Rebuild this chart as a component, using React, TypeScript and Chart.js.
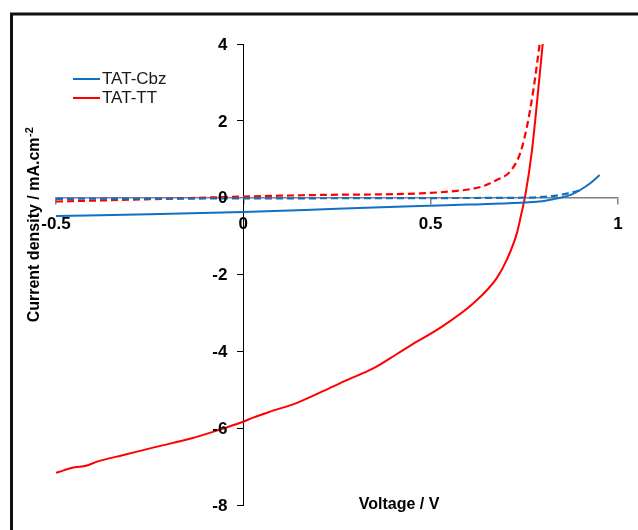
import { useEffect, useRef } from 'react';
import { Chart, registerables } from 'chart.js';

Chart.register(...registerables);

// Voltage (V) / current density (mA.cm-2)
const cbzLightV = [-0.5, -0.25, 0, 0.25, 0.47, 0.6, 0.74, 0.79, 0.827, 0.863, 0.88, 0.899, 0.925, 0.951];
const cbzLightJ = [-0.48, -0.43, -0.37, -0.29, -0.22, -0.18, -0.13, -0.1, -0.04, 0.04, 0.1, 0.2, 0.37, 0.59];

const cbzDarkV = [-0.5, 0, 0.5, 0.75, 0.8, 0.845, 0.87, 0.9];
const cbzDarkJ = [-0.03, -0.02, -0.01, 0.0, 0.02, 0.07, 0.12, 0.19];

const ttDarkV = [-0.5, -0.25, 0, 0.2, 0.472, 0.55, 0.605, 0.64, 0.676, 0.712, 0.739, 0.757, 0.774, 0.791];
const ttDarkJ = [-0.1, -0.04, 0.03, 0.07, 0.11, 0.16, 0.22, 0.3, 0.46, 0.68, 1.16, 1.85, 2.8, 4.0];

const ttLightV = [-0.5, -0.45, -0.42, -0.39, -0.32, -0.23, -0.14, -0.06, -0.008, 0.028, 0.072, 0.143, 0.214, 0.276, 0.348, 0.41, 0.463, 0.525, 0.614, 0.676, 0.703, 0.73, 0.742, 0.752, 0.77, 0.785, 0.799];
const ttLightJ = [-7.16, -7.02, -6.98, -6.87, -6.7, -6.48, -6.27, -6.03, -5.86, -5.72, -5.57, -5.34, -5.03, -4.75, -4.44, -4.07, -3.75, -3.39, -2.75, -2.1, -1.62, -0.93, -0.42, 0.03, 1.2, 2.6, 4.0];

const seriesNames = ['TAT-Cbz', 'TAT-TT'];
const xTitle = 'Voltage / V';
const yTitle = 'Current density / mA.cm';
const yTitleSup = '-2';

const BLUE = '#1170c4';
const RED = '#ff0000';
const FONT = '"Liberation Sans", Arial, Helvetica, sans-serif';
const TICK_FONT = `bold 17px ${FONT}`;

const pts = (v: number[], j: number[]) => v.map((x, i) => ({ x, y: j[i] }));
const fmt = (v: number) => String(Number(v.toFixed(3)));

const decor = {
  id: 'decor',
  beforeDraw(chart: any) {
    const ctx = chart.ctx as CanvasRenderingContext2D;
    ctx.save();
    ctx.strokeStyle = '#111';
    ctx.lineWidth = 3;
    ctx.beginPath();
    ctx.moveTo(11.5, 540);
    ctx.lineTo(11.5, 14);
    ctx.lineTo(660, 14);
    ctx.stroke();
    ctx.restore();
  },
  afterDraw(chart: any) {
    const ctx = chart.ctx as CanvasRenderingContext2D;
    const xs = chart.scales.x;
    const ys = chart.scales.y;

    // y tick labels, placed left of the y axis (which sits at x = 0)
    ctx.save();
    const axisX = xs.getPixelForValue(0);
    ctx.fillStyle = '#000';
    ctx.font = TICK_FONT;
    ctx.textAlign = 'right';
    ctx.textBaseline = 'middle';
    ys.ticks.forEach((t: any) => {
      ctx.fillText(fmt(t.value), axisX - 16, ys.getPixelForValue(t.value) + 1);
    });
    ctx.restore();

    ctx.save();
    // x title
    ctx.fillStyle = '#000';
    ctx.font = `bold 16px ${FONT}`;
    ctx.textAlign = 'center';
    ctx.textBaseline = 'middle';
    ctx.fillText(xTitle, 399, 505);
    // y title (rotated)
    ctx.translate(35, 225);
    ctx.rotate(-Math.PI / 2);
    ctx.font = `bold 16px ${FONT}`;
    const w1 = ctx.measureText(yTitle).width;
    ctx.font = `bold 11px ${FONT}`;
    const w2 = ctx.measureText(yTitleSup).width;
    const start = -(w1 + w2) / 2;
    ctx.textAlign = 'left';
    ctx.font = `bold 16px ${FONT}`;
    ctx.fillText(yTitle, start, 0);
    ctx.font = `bold 11px ${FONT}`;
    ctx.fillText(yTitleSup, start + w1 + 0.5, -5);
    ctx.restore();

    // legend
    ctx.save();
    const rows = [
      { name: seriesNames[0], color: BLUE, y: 79 },
      { name: seriesNames[1], color: RED, y: 98 },
    ];
    rows.forEach((r) => {
      ctx.strokeStyle = r.color;
      ctx.lineWidth = 2;
      ctx.beginPath();
      ctx.moveTo(73, r.y);
      ctx.lineTo(100, r.y);
      ctx.stroke();
      ctx.fillStyle = '#1a1a1a';
      ctx.font = `17px ${FONT}`;
      ctx.textAlign = 'left';
      ctx.textBaseline = 'middle';
      ctx.fillText(r.name, 102, r.y + 0.5);
    });
    ctx.restore();
  },
};

export default function App() {
  const ref = useRef<HTMLCanvasElement>(null);
  useEffect(() => {
    document.body.style.margin = '0';
    document.body.style.overflow = 'hidden';
    const chart = new Chart(ref.current as HTMLCanvasElement, {
      type: 'scatter',
      data: {
        datasets: [
          {
            label: seriesNames[0],
            data: pts(cbzLightV, cbzLightJ),
            showLine: true,
            borderColor: BLUE,
            borderWidth: 2,
            pointRadius: 0,
            cubicInterpolationMode: 'monotone',
          },
          {
            label: seriesNames[0] + ' (dark)',
            data: pts(cbzDarkV, cbzDarkJ),
            showLine: true,
            borderColor: BLUE,
            borderWidth: 2.2,
            borderDash: [7, 4],
            pointRadius: 0,
            cubicInterpolationMode: 'monotone',
          },
          {
            label: seriesNames[1] + ' (dark)',
            data: pts(ttDarkV, ttDarkJ),
            showLine: true,
            borderColor: RED,
            borderWidth: 2.2,
            borderDash: [7, 4],
            pointRadius: 0,
            cubicInterpolationMode: 'monotone',
          },
          {
            label: seriesNames[1],
            data: pts(ttLightV, ttLightJ),
            showLine: true,
            borderColor: RED,
            borderWidth: 2,
            pointRadius: 0,
            cubicInterpolationMode: 'monotone',
          },
        ],
      } as any,
      options: {
        animation: false,
        responsive: false,
        devicePixelRatio: 1,
        layout: { padding: { left: 56, right: 20, top: 44, bottom: 25 } },
        plugins: { legend: { display: false }, tooltip: { enabled: false } },
        scales: {
          x: {
            type: 'linear',
            min: -0.5,
            max: 1,
            position: { y: 0 } as any,
            border: { display: true, color: '#808080', width: 1.5 },
            grid: { drawOnChartArea: false, drawTicks: true, tickLength: 6, color: '#808080', lineWidth: 1.5 },
            ticks: {
              stepSize: 0.5,
              autoSkip: false,
              maxRotation: 0,
              padding: 10,
              color: '#000',
              font: { family: FONT, size: 17, weight: 'bold' },
              callback: (v: any) => fmt(Number(v)),
            },
          },
          y: {
            type: 'linear',
            min: -8,
            max: 4,
            position: { x: 0 } as any,
            border: { display: true, color: '#000', width: 1 },
            grid: { drawOnChartArea: false, drawTicks: true, tickLength: 6, color: '#000', lineWidth: 1 },
            ticks: {
              stepSize: 2,
              autoSkip: false,
              display: false,
            },
          },
        },
      } as any,
      plugins: [decor],
    });
    return () => chart.destroy();
  }, []);
  return (
    <canvas
      ref={ref}
      width={638}
      height={530}
      style={{ display: 'block', width: 638, height: 530 }}
    />
  );
}
